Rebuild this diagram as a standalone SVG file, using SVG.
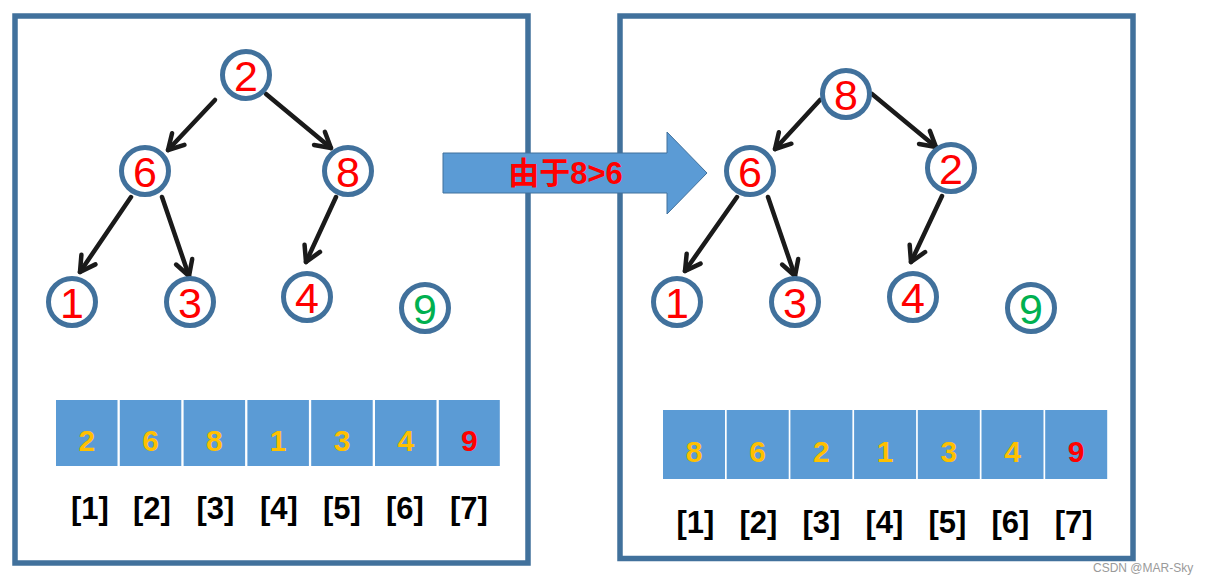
<svg xmlns="http://www.w3.org/2000/svg" width="1207" height="584" viewBox="0 0 1207 584">
<defs>
<style>
.frame{fill:none;stroke:#41719C;stroke-width:5.5}
.node circle{fill:#fff;stroke:#41719C;stroke-width:5}
.node text{font-family:"Liberation Sans",Arial,sans-serif;font-size:43px;fill:#FF0000;text-anchor:middle}
.node text.g{fill:#00B050}
.edge{stroke:#1a1a1a;stroke-width:4.5;stroke-linecap:round;fill:none;marker-end:url(#ah)}
.cell rect{fill:#5B9BD5}
.cell text{font-family:"Liberation Sans",Arial,sans-serif;font-weight:bold;font-size:30px;fill:#FFC000;text-anchor:middle}
.cell text.r{fill:#FF0000}
.idx{font-family:"Liberation Sans",Arial,sans-serif;font-weight:bold;font-size:31px;fill:#000;text-anchor:middle}
</style>
<marker id="ah" markerUnits="userSpaceOnUse" markerWidth="30" markerHeight="30" viewBox="-20 -15 25 30" refX="0" refY="0" orient="auto">
<path d="M-15,-8.5 L0,0 L-15,8.5" fill="none" stroke="#1a1a1a" stroke-width="4.5" stroke-linecap="round" stroke-linejoin="round"/>
</marker>
</defs>
<rect width="1207" height="584" fill="#fff"/>

<rect id="frame-left" class="frame" x="15" y="16" width="513" height="547"/>
<rect id="frame-right" class="frame" x="620" y="16" width="513" height="542.5"/>

<g id="connectors">
<line class="edge" x1="215" y1="100" x2="168" y2="150"/>
<line class="edge" x1="266" y1="94" x2="331" y2="148"/>
<line class="edge" x1="131" y1="197" x2="80" y2="272"/>
<line class="edge" x1="162" y1="197" x2="189" y2="276"/>
<line class="edge" x1="336" y1="197" x2="306" y2="262"/>
<line class="edge" x1="820" y1="100" x2="775" y2="149"/>
<line class="edge" x1="872" y1="94" x2="936" y2="147"/>
<line class="edge" x1="737" y1="197" x2="685" y2="271"/>
<line class="edge" x1="768" y1="197" x2="795" y2="276"/>
<line class="edge" x1="942" y1="196" x2="911" y2="262"/>
</g>

<g id="left-tree">
<g id="L2" class="node"><circle cx="246" cy="75" r="23.5"/><text x="246" y="90.5">2</text></g>
<g id="L6" class="node"><circle cx="145" cy="171" r="23.5"/><text x="145" y="186.5">6</text></g>
<g id="L8" class="node"><circle cx="348" cy="171" r="23.5"/><text x="348" y="186.5">8</text></g>
<g id="L1" class="node"><circle cx="72" cy="302" r="23.5"/><text x="72" y="317.5">1</text></g>
<g id="L3" class="node"><circle cx="190" cy="302" r="23.5"/><text x="190" y="317.5">3</text></g>
<g id="L4" class="node"><circle cx="307" cy="297" r="23.5"/><text x="307" y="312.5">4</text></g>
<g id="L9" class="node"><circle cx="425" cy="308" r="23.5"/><text class="g" x="425" y="323.5">9</text></g>
</g>

<g id="right-tree">
<g id="R8" class="node"><circle cx="846" cy="94" r="23.5"/><text x="846" y="109.5">8</text></g>
<g id="R6" class="node"><circle cx="750" cy="171" r="23.5"/><text x="750" y="186.5">6</text></g>
<g id="R2" class="node"><circle cx="951" cy="168" r="23.5"/><text x="951" y="183.5">2</text></g>
<g id="R1" class="node"><circle cx="677" cy="302" r="23.5"/><text x="677" y="317.5">1</text></g>
<g id="R3" class="node"><circle cx="795" cy="302" r="23.5"/><text x="795" y="317.5">3</text></g>
<g id="R4" class="node"><circle cx="913" cy="297" r="23.5"/><text x="913" y="312.5">4</text></g>
<g id="R9" class="node"><circle cx="1031" cy="308" r="23.5"/><text class="g" x="1031" y="323.5">9</text></g>
</g>

<g id="big-arrow">
<polygon points="443,153 667,153 667,132 707,173 667,214 667,193 443,193" fill="#5B9BD5" stroke="#41719C" stroke-width="1"/>
<text x="565.5" y="184" text-anchor="middle" font-family="'Liberation Sans','Noto Sans CJK SC',sans-serif" font-weight="bold" font-size="31" fill="#FF0000">由于8&gt;6</text>
</g>

<g id="left-array">
<g class="cell"><rect x="56" y="400" width="61.5" height="66"/><text x="86.8" y="451">2</text></g>
<g class="cell"><rect x="119.8" y="400" width="61.5" height="66"/><text x="150.6" y="451">6</text></g>
<g class="cell"><rect x="183.6" y="400" width="61.5" height="66"/><text x="214.4" y="451">8</text></g>
<g class="cell"><rect x="247.4" y="400" width="61.5" height="66"/><text x="278.2" y="451">1</text></g>
<g class="cell"><rect x="311.2" y="400" width="61.5" height="66"/><text x="342" y="451">3</text></g>
<g class="cell"><rect x="375" y="400" width="61.5" height="66"/><text x="405.8" y="451">4</text></g>
<g class="cell"><rect x="438.8" y="400" width="61" height="66"/><text class="r" x="469.4" y="451">9</text></g>
</g>
<g id="left-index">
<text class="idx" x="90" y="519">[1]</text>
<text class="idx" x="152" y="519">[2]</text>
<text class="idx" x="215.5" y="519">[3]</text>
<text class="idx" x="279" y="519">[4]</text>
<text class="idx" x="342" y="519">[5]</text>
<text class="idx" x="405" y="519">[6]</text>
<text class="idx" x="469" y="519">[7]</text>
</g>

<g id="right-array">
<g class="cell"><rect x="663" y="410" width="62" height="69"/><text x="694" y="462">8</text></g>
<g class="cell"><rect x="726.7" y="410" width="62" height="69"/><text x="757.7" y="462">6</text></g>
<g class="cell"><rect x="790.4" y="410" width="62" height="69"/><text x="821.4" y="462">2</text></g>
<g class="cell"><rect x="854.1" y="410" width="62" height="69"/><text x="885.1" y="462">1</text></g>
<g class="cell"><rect x="917.8" y="410" width="62" height="69"/><text x="948.8" y="462">3</text></g>
<g class="cell"><rect x="981.5" y="410" width="62" height="69"/><text x="1012.5" y="462">4</text></g>
<g class="cell"><rect x="1045.2" y="410" width="62" height="69"/><text class="r" x="1076.2" y="462">9</text></g>
</g>
<g id="right-index">
<text class="idx" x="695.5" y="533">[1]</text>
<text class="idx" x="758.5" y="533">[2]</text>
<text class="idx" x="821.5" y="533">[3]</text>
<text class="idx" x="884.5" y="533">[4]</text>
<text class="idx" x="947.5" y="533">[5]</text>
<text class="idx" x="1010.5" y="533">[6]</text>
<text class="idx" x="1073.7" y="533">[7]</text>
</g>

<text id="watermark" x="1093" y="572" font-family="'Liberation Sans',Arial,sans-serif" font-size="12" fill="#9a9a9a">CSDN @MAR-Sky</text>
</svg>
